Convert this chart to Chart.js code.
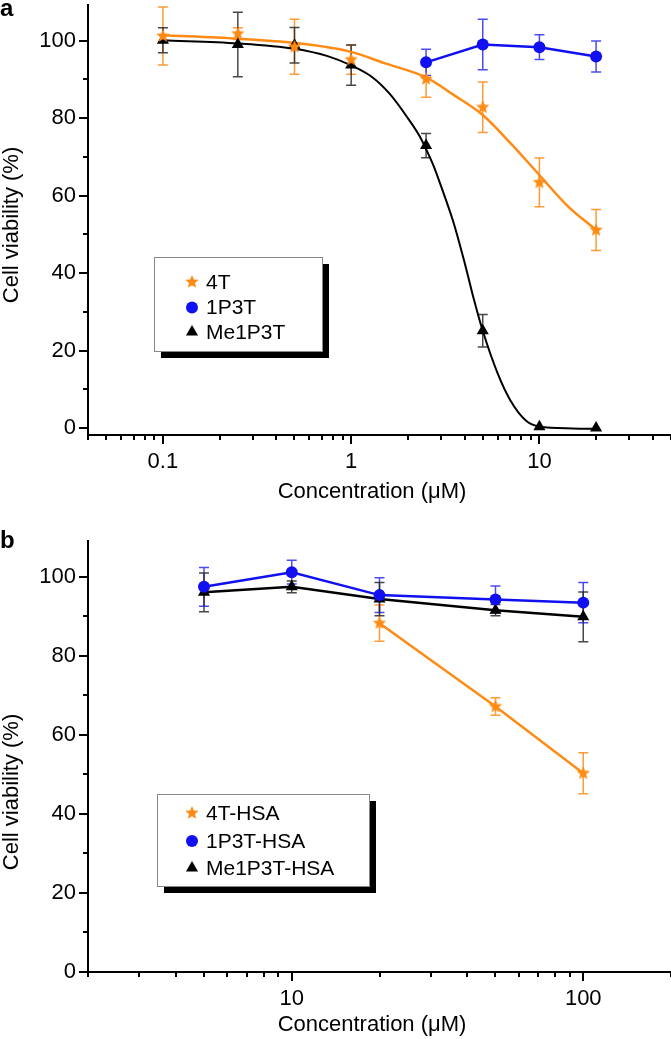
<!DOCTYPE html>
<html>
<head>
<meta charset="utf-8">
<script src="https://cdn.jsdelivr.net/npm/chart.js@4.4.1/dist/chart.umd.min.js"></script>
<style>
  html, body { margin: 0; padding: 0; background: #fff; }
  #wrap { position: relative; width: 671px; height: 1039px; }
  .panel { position: absolute; left: 0; width: 671px; }
  #panelA { top: 0; height: 515px; }
  #panelB { top: 515px; height: 524px; }
</style>
</head>
<body>
<div id="wrap">
  <div class="panel" id="panelA"><canvas id="chartA"></canvas></div>
  <div class="panel" id="panelB"><canvas id="chartB"></canvas></div>
</div>
<script>
// ---- panel a : free compounds ----
const concA = [0.1, 0.25, 0.5, 1, 2.5, 5, 10, 20];
const via4T = [101.2, 101.8, 98.4, 95.1, 90.1, 82.8, 63.4, 51.1];
const err4T = [7.5, 1.5, 7.1, 3.8, 4.7, 6.5, 6.3, 5.3];
const conc1P3T = [2.5, 5, 10, 20];
const via1P3T = [94.4, 99.0, 98.3, 95.9];
const err1P3T = [3.4, 6.5, 3.2, 4.0];
const viaMe1P3T = [100.1, 99.0, 98.8, 93.7, 72.9, 25.1, 0.3, 0.0];
const errMe1P3T = [3.2, 8.3, 4.6, 5.2, 3.1, 4.2, 0, 0];
// fitted curves
const fit4TConc = [0.1, 0.25, 0.5, 1, 1.5, 2.5, 3.5, 5, 7, 10, 14, 20];
const fit4TVia = [101.4, 100.5, 99.4, 97.1, 94.2, 90.5, 86.0, 80.8, 73.6, 65.3, 57.5, 51.1];
const fitMeConc = [0.1, 0.25, 0.5, 0.75, 1, 1.3, 1.6, 2, 2.3, 2.5, 2.75, 3, 3.5, 4, 4.5, 5, 6, 7, 8.5, 10, 15, 20];
const fitMeVia = [100.1, 99.3, 97.9, 96.0, 93.6, 90.5, 86.3, 80.0, 75.5, 72.0, 67.5, 62.5, 53.0, 42.8, 33.0, 25.1, 14.1, 7.2, 1.9, 0.4, -0.1, -0.2];
const xTicksA = [0.04, 0.05, 0.06, 0.07, 0.08, 0.09, 0.1, 0.2, 0.3, 0.4, 0.5, 0.6, 0.7, 0.8, 0.9,
                 1, 2, 3, 4, 5, 6, 7, 8, 9, 10, 20, 30, 40, 50];
const xLabelsA = [0.1, 1, 10];

// ---- panel b : HSA complexes ----
const concB = [5, 10, 20, 50, 100];
const conc4THSA = [20, 50, 100];
const via4THSA = [88.3, 67.2, 50.3];
const err4THSA = [4.6, 2.2, 5.2];
const via1P3THSA = [97.5, 101.2, 95.4, 94.3, 93.5];
const err1P3THSA = [4.9, 3.0, 4.4, 3.4, 5.1];
const viaMe1P3THSA = [96.1, 97.5, 94.4, 91.6, 89.9];
const errMe1P3THSA = [4.9, 1.5, 4.2, 1.4, 6.3];
const xTicksB = [2, 3, 4, 5, 6, 7, 8, 9, 10, 20, 30, 40, 50, 60, 70, 80, 90, 100, 200];
const xLabelsB = [10, 100];

const yTicks = [0, 10, 20, 30, 40, 50, 60, 70, 80, 90, 100];
const yLabels = [0, 20, 40, 60, 80, 100];

const FONT = "'Liberation Sans', Arial, Helvetica, sans-serif";
const ORANGE = 'rgb(255,139,20)';
const BLUE = 'rgb(16,16,240)';
const BLACK = '#000';

function starImage(color, r) {
    const c = document.createElement('canvas');
    const s = Math.ceil(2 * r + 2);
    c.width = s; c.height = s;
    const g = c.getContext('2d');
    g.fillStyle = color;
    g.beginPath();
    for (let i = 0; i < 10; i++) {
        const rad = i % 2 ? r * 0.45 : r;
        const a = -Math.PI / 2 + i * Math.PI / 5;
        g.lineTo(s / 2 + rad * Math.cos(a), s / 2 + rad * Math.sin(a));
    }
    g.closePath();
    g.fill();
    return c;
}
const STAR = starImage(ORANGE, 7);

const pts = (xs, ys) => xs.map((x, i) => ({ x: x, y: ys[i] }));

function markers(label, xs, ys, errs, style, color, errColor, radius, withLine) {
    return {
        label: label, data: pts(xs, ys), errors: errs, errorColor: errColor,
        inLegend: true, order: 0,
        showLine: withLine, borderColor: color, borderWidth: 2.5,
        pointStyle: style, pointRadius: radius, pointBackgroundColor: color,
        pointBorderWidth: 0, tension: 0
    };
}
function fitLine(xs, ys, color, width) {
    return {
        data: pts(xs, ys), order: 2, borderColor: color, borderWidth: width,
        pointRadius: 0, cubicInterpolationMode: 'monotone', fill: false
    };
}

// error bars drawn from the same scales as the points
const errorBars = {
    id: 'errorBars',
    beforeDatasetsDraw(chart) {
        const ctx = chart.ctx, xs = chart.scales.x, ys = chart.scales.y;
        chart.data.datasets.forEach(ds => {
            if (!ds.errors) return;
            ctx.save();
            ctx.strokeStyle = ds.errorColor;
            ctx.lineWidth = 1.5;
            ds.data.forEach((p, j) => {
                const e = ds.errors[j];
                if (!e) return;
                const px = xs.getPixelForValue(p.x);
                const top = ys.getPixelForValue(p.y + e), bot = ys.getPixelForValue(p.y - e);
                ctx.beginPath();
                ctx.moveTo(px, top); ctx.lineTo(px, bot);
                ctx.moveTo(px - 5, top); ctx.lineTo(px + 5, top);
                ctx.moveTo(px - 5, bot); ctx.lineTo(px + 5, bot);
                ctx.stroke();
            });
            ctx.restore();
        });
    }
};

// outward tick marks, long on labelled values
const tickMarks = {
    id: 'tickMarks',
    afterDraw(chart, args, opts) {
        const { ctx, chartArea } = chart;
        const xs = chart.scales.x, ys = chart.scales.y;
        ctx.save();
        ctx.strokeStyle = '#000';
        ctx.lineWidth = 2;
        xs.ticks.forEach(t => {
            const px = Math.round(xs.getPixelForValue(t.value));
            const len = opts.xMajor.includes(t.value) ? 9 : 5;
            ctx.beginPath(); ctx.moveTo(px, chartArea.bottom); ctx.lineTo(px, chartArea.bottom + len); ctx.stroke();
        });
        ys.ticks.forEach(t => {
            const py = Math.round(ys.getPixelForValue(t.value));
            const len = yLabels.includes(t.value) ? 9 : 5;
            ctx.beginPath(); ctx.moveTo(chartArea.left, py); ctx.lineTo(chartArea.left - len, py); ctx.stroke();
        });
        ctx.restore();
    }
};

function drawMarker(ctx, style, color, r, x, y) {
    if (style instanceof HTMLCanvasElement) {
        ctx.drawImage(style, x - style.width / 2, y - style.height / 2);
        return;
    }
    ctx.fillStyle = color;
    ctx.beginPath();
    if (style === 'circle') {
        ctx.arc(x, y, r, 0, Math.PI * 2);
    } else {
        let a = 0;
        ctx.moveTo(x + Math.sin(a) * r, y - Math.cos(a) * r);
        a += Math.PI * 2 / 3; ctx.lineTo(x + Math.sin(a) * r, y - Math.cos(a) * r);
        a += Math.PI * 2 / 3; ctx.lineTo(x + Math.sin(a) * r, y - Math.cos(a) * r);
        ctx.closePath();
    }
    ctx.fill();
}

// framed legend with a drop shadow
const boxLegend = {
    id: 'boxLegend',
    afterDraw(chart, args, o) {
        const ctx = chart.ctx;
        ctx.save();
        ctx.fillStyle = '#000';
        ctx.fillRect(o.x + 7, o.y + 7, o.w, o.h);
        ctx.fillStyle = '#fff';
        ctx.fillRect(o.x, o.y, o.w, o.h);
        ctx.strokeStyle = '#888';
        ctx.lineWidth = 1;
        ctx.strokeRect(o.x + 0.5, o.y + 0.5, o.w, o.h);
        chart.data.datasets.filter(d => d.inLegend).forEach((d, i) => {
            const cy = o.rows[i];
            drawMarker(ctx, d.pointStyle, d.pointBackgroundColor, d.pointRadius, o.markerX, cy);
            ctx.fillStyle = '#000';
            ctx.font = '21px ' + FONT;
            ctx.textBaseline = 'middle';
            ctx.textAlign = 'left';
            ctx.fillText(d.label, o.textX, cy + 1);
        });
        ctx.restore();
    }
};

// axis titles and panel letter
const panelText = {
    id: 'panelText',
    afterDraw(chart, args, o) {
        const ctx = chart.ctx;
        ctx.save();
        ctx.fillStyle = '#000';
        ctx.font = 'bold 24px ' + FONT;
        ctx.textAlign = 'left';
        ctx.textBaseline = 'alphabetic';
        ctx.fillText(o.letter, 0, o.letterY);
        ctx.font = '22px ' + FONT;
        ctx.textAlign = 'center';
        ctx.textBaseline = 'middle';
        ctx.fillText('Concentration (μM)', o.xTitle[0], o.xTitle[1]);
        ctx.translate(o.yTitle[0], o.yTitle[1]);
        ctx.rotate(-Math.PI / 2);
        ctx.fillText('Cell viability (%)', 0, 0);
        ctx.restore();
    }
};

function options(cfg) {
    return {
        responsive: true,
        maintainAspectRatio: false,
        animation: false,
        layout: { autoPadding: false, padding: { top: cfg.padTop, left: 0, right: 0, bottom: 0 } },
        plugins: {
            legend: { display: false },
            tooltip: { enabled: false },
            tickMarks: { xMajor: cfg.xLabels },
            boxLegend: cfg.legend,
            panelText: cfg.text
        },
        scales: {
            x: {
                type: 'logarithmic', min: cfg.xMin, max: cfg.xMax,
                afterBuildTicks: s => { s.ticks = cfg.xTicks.map(v => ({ value: v })); },
                afterFit: s => { s.height = cfg.xAxisH; s.paddingLeft = 0; s.paddingRight = 0; },
                grid: { drawOnChartArea: false, drawTicks: false },
                border: { color: '#000', width: 2 },
                ticks: {
                    autoSkip: false, maxRotation: 0, padding: 14, color: '#000',
                    font: { family: FONT, size: 22 },
                    callback: v => cfg.xLabels.includes(v) ? String(v) : ''
                }
            },
            y: {
                min: cfg.yMin, max: cfg.yMax,
                afterBuildTicks: s => { s.ticks = yTicks.map(v => ({ value: v })); },
                afterFit: s => { s.width = 88; s.paddingTop = 0; s.paddingBottom = 0; },
                grid: { drawOnChartArea: false, drawTicks: false },
                border: { color: '#000', width: 2 },
                ticks: {
                    autoSkip: false, padding: 12, color: '#000',
                    font: { family: FONT, size: 22 },
                    callback: v => yLabels.includes(v) ? String(v) : ''
                }
            }
        }
    };
}

const plugins = [errorBars, tickMarks, boxLegend, panelText];

new Chart(document.getElementById('chartA'), {
    type: 'line',
    data: {
        datasets: [
            markers('4T', concA, via4T, err4T, STAR, ORANGE, 'rgba(255,139,20,0.85)', 7, false),
            markers('1P3T', conc1P3T, via1P3T, err1P3T, 'circle', BLUE, 'rgba(30,30,240,0.8)', 6, true),
            markers('Me1P3T', concA, viaMe1P3T, errMe1P3T, 'triangle', BLACK, 'rgba(40,40,40,0.85)', 7, false),
            fitLine(fit4TConc, fit4TVia, ORANGE, 2.5),
            fitLine(fitMeConc, fitMeVia, BLACK, 2)
        ]
    },
    options: options({
        padTop: 5, xAxisH: 80, xMin: 0.04, xMax: 50, yMin: -1.8, yMax: 109.2,
        xTicks: xTicksA, xLabels: xLabelsA,
        legend: { x: 154, y: 257, w: 168, h: 94, markerX: 192, textX: 206, rows: [282, 307.5, 332] },
        text: { letter: 'a', letterY: 16, xTitle: [372, 492], yTitle: [12, 225] }
    }),
    plugins: plugins
});

new Chart(document.getElementById('chartB'), {
    type: 'line',
    data: {
        datasets: [
            markers('4T-HSA', conc4THSA, via4THSA, err4THSA, STAR, ORANGE, 'rgba(255,139,20,0.85)', 7, true),
            markers('1P3T-HSA', concB, via1P3THSA, err1P3THSA, 'circle', BLUE, 'rgba(30,30,240,0.8)', 6, true),
            markers('Me1P3T-HSA', concB, viaMe1P3THSA, errMe1P3THSA, 'triangle', BLACK, 'rgba(40,40,40,0.85)', 7, true)
        ]
    },
    options: options({
        padTop: 26, xAxisH: 67, xMin: 2, xMax: 200, yMin: 0, yMax: 109.1,
        xTicks: xTicksB, xLabels: xLabelsB,
        legend: { x: 157, y: 279, w: 212, h: 92, markerX: 192, textX: 206, rows: [298, 326, 353] },
        text: { letter: 'b', letterY: 33, xTitle: [372, 510], yTitle: [12, 277] }
    }),
    plugins: plugins
});
</script>
</body>
</html>
